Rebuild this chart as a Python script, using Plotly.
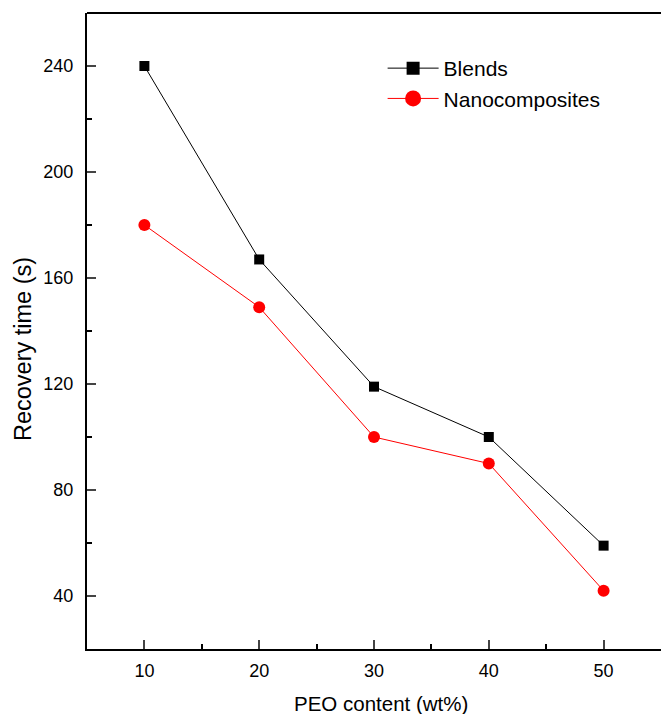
import plotly.graph_objects as go

peo = [10, 20, 30, 40, 50]
blends = [240, 167, 119, 100, 59]
nano = [180, 149, 100, 90, 42]

fig = go.Figure()
fig.add_trace(go.Scatter(x=peo, y=blends, name="Blends", mode="lines+markers", showlegend=False,
                         line=dict(color="black", width=1),
                         marker=dict(symbol="square", size=10, color="black")))
fig.add_trace(go.Scatter(x=peo, y=nano, name="Nanocomposites", mode="lines+markers", showlegend=False,
                         line=dict(color="red", width=1),
                         marker=dict(symbol="circle", size=12, color="red")))
# legend entries (larger symbols, as in the reference legend)
fig.add_trace(go.Scatter(x=[None], y=[None], name="Blends", mode="lines+markers",
                         line=dict(color="black", width=1),
                         marker=dict(symbol="square", size=13, color="black")))
fig.add_trace(go.Scatter(x=[None], y=[None], name="Nanocomposites", mode="lines+markers",
                         line=dict(color="red", width=1),
                         marker=dict(symbol="circle", size=16, color="red")))

font = "Liberation Sans, Arial, sans-serif"
fig.update_layout(
    width=661, height=714,
    margin=dict(l=87, r=0, t=13, b=65),
    paper_bgcolor="white", plot_bgcolor="white",
    font=dict(family=font, color="black"),
    showlegend=True,
    legend=dict(x=0.515, y=0.945, xanchor="left", yanchor="top",
                font=dict(size=21, family=font), bgcolor="rgba(0,0,0,0)",
                tracegroupgap=0, itemwidth=51),
    xaxis=dict(range=[5, 55], tickvals=[10, 20, 30, 40, 50], ticks="inside",
               ticklen=9, tickwidth=2, showline=True, linewidth=2, linecolor="black",
               mirror=False, showgrid=False, zeroline=False, ticklabelstandoff=4,
               minor=dict(tickvals=[15, 25, 35, 45], ticks="inside", ticklen=5, tickwidth=2, tickcolor="black"),
               tickfont=dict(size=18)),
    yaxis=dict(range=[20, 260], tickvals=[40, 80, 120, 160, 200, 240], ticks="inside",
               ticklen=9, tickwidth=2, showline=True, linewidth=2, linecolor="black",
               showgrid=False, zeroline=False, ticklabelstandoff=8,
               minor=dict(tickvals=[60, 100, 140, 180, 220], ticks="inside", ticklen=5, tickwidth=2, tickcolor="black"),
               tickfont=dict(size=18)),
    annotations=[
        dict(text="PEO content (wt%)", xref="paper", yref="paper",
             x=(381 - 87) / 574, y=-(703 - 649) / 636, xanchor="center", yanchor="middle",
             showarrow=False, font=dict(size=20.5, family=font)),
        dict(text="Recovery time (s)", xref="paper", yref="paper", textangle=-90,
             x=-(87 - 23) / 574, y=(649 - 349) / 636, xanchor="center", yanchor="middle",
             showarrow=False, font=dict(size=23.5, family=font)),
    ],
)
# top border line
fig.add_shape(type="line", xref="paper", yref="paper", x0=0, x1=1, y0=1, y1=1,
              line=dict(color="black", width=2))

fig.write_html("out.html")
